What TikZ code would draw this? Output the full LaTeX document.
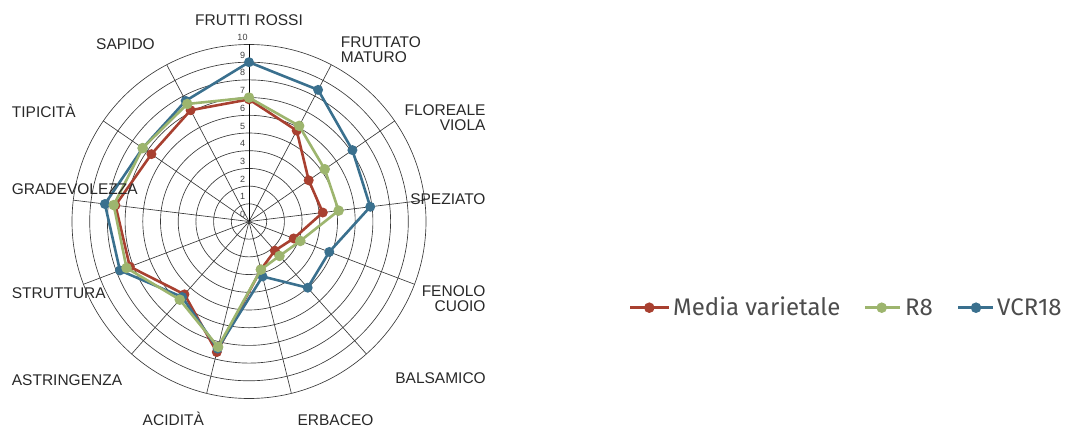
\documentclass[tikz,border=0pt]{standalone}
\usepackage{fontspec}
\setmainfont{Liberation Sans}
\newfontfamily\legfont{Fira Sans}
\definecolor{cred}{RGB}{168,64,48}
\definecolor{cgreen}{RGB}{157,181,110}
\definecolor{cblue}{RGB}{58,112,142}
\definecolor{txt}{RGB}{40,40,40}
\begin{document}
\begin{tikzpicture}[x=1pt,y=1pt,
  ring/.style={draw=black!78,line width=0.65pt},
  series/.style={line width=2.6pt,line join=round},
  lab/.style={font=\fontsize{15.5}{15.5}\selectfont,text=txt,inner sep=0pt},
  tick/.style={font=\fontsize{9}{9}\selectfont,text=black!75,inner sep=0pt},
  leg/.style={font=\legfont\fontsize{24}{24}\selectfont,text=black!70,inner sep=0pt,anchor=base west},
  legline/.style={line width=3.6pt}]
\useasboundingbox (0,0) rectangle (1071,-427);
\coordinate (C) at (249,-221.5);
% grid
\foreach \k in {1,...,10} \draw[ring] (C) circle ({17.7*\k});
\foreach \i in {0,...,12} \draw[ring] (C) -- ++({90-\i*360/13}:177);
\draw[black,line width=0.9pt] (C) -- ++(0,177);
\foreach \k in {0,...,10} \node[tick] (t\k) at (242.5, {-221.5+17.7*\k+7}) {\k};
% series
\foreach \v [count=\i from 0] in {6.9,5.8,4.1,4.2,2.7,2.2,2.8,7.6,5.5,7.2,7.6,6.7,7.1}
  \path (C) ++({90-\i*360/13}:{17.7*\v}) coordinate (r\i);
\foreach \v [count=\i from 0] in {7.0,6.1,5.2,5.1,3.1,2.6,2.8,7.3,5.9,7.4,7.7,7.3,7.5}
  \path (C) ++({90-\i*360/13}:{17.7*\v}) coordinate (g\i);
\foreach \v [count=\i from 0] in {9.0,8.4,7.1,6.9,4.85,5.0,3.2,7.4,5.7,7.8,8.2,7.3,7.7}
  \path (C) ++({90-\i*360/13}:{17.7*\v}) coordinate (b\i);
\draw[series,cred] (r0) \foreach \i in {1,...,12}{ -- (r\i)} -- cycle;
\foreach \i in {0,...,12} \fill[cred] (r\i) circle (5);
\draw[series,cblue] (b0) \foreach \i in {1,...,12}{ -- (b\i)} -- cycle;
\foreach \i in {0,...,12} \fill[cblue] (b\i) circle (5);
\draw[series,cgreen] (g0) \foreach \i in {1,...,12}{ -- (g\i)} -- cycle;
\foreach \i in {0,...,12} \fill[cgreen] (g\i) circle (5.3);
% labels
\node[lab,anchor=base] (l0) at (249,-25.5) {FRUTTI ROSSI};
\node[lab,anchor=north west,align=left] (l1) at (340.7,-36.7) {FRUTTATO\\[-1.2pt]MATURO};
\node[lab,anchor=north east,align=right] (l2) at (485.7,-104) {FLOREALE\\[-0.5pt]VIOLA};
\node[lab,anchor=base east] (l3) at (485.7,-205) {SPEZIATO};
\node[lab,anchor=north east,align=right] (l4) at (485.7,-285) {FENOLO\\[-0.5pt]CUOIO};
\node[lab,anchor=base east] (l5) at (486,-383.5) {BALSAMICO};
\node[lab,anchor=base] (l6) at (335.5,-425) {ERBACEO};
\node[lab,anchor=base] (l7) at (173.3,-425) {ACIDITÀ};
\node[lab,anchor=base west] (l8) at (11.7,-386) {ASTRINGENZA};
\node[lab,anchor=base west] (l9) at (11.7,-298.3) {STRUTTURA};
\node[lab,anchor=base west] (l10) at (11.7,-195) {GRADEVOLEZZA};
\node[lab,anchor=base west] (l11) at (11.7,-117.3) {TIPICITÀ};
\node[lab,anchor=base] (l12) at (125.5,-49.3) {SAPIDO};
% legend
\coordinate (ra) at (630,-307.7); \coordinate (rb) at (668.5,-307.7); \coordinate (rm) at (649.3,-307.7);
\draw[legline,cred] (ra) -- (rb); \fill[cred] (rm) circle (5.3);
\node[leg] (lr) at (673,-315.5) {Media varietale};
\coordinate (ga) at (865,-307.7); \coordinate (gb) at (900,-307.7); \coordinate (gm) at (881.7,-307.7);
\draw[legline,cgreen] (ga) -- (gb); \fill[cgreen] (gm) circle (5.3);
\node[leg] (lg) at (905,-315.5) {R8};
\coordinate (ba) at (958,-307.7); \coordinate (bb) at (993,-307.7); \coordinate (bm) at (976,-307.7);
\draw[legline,cblue] (ba) -- (bb); \fill[cblue] (bm) circle (5.3);
\node[leg] (lb) at (997,-315.5) {VCR18};
\end{tikzpicture}
\end{document}
